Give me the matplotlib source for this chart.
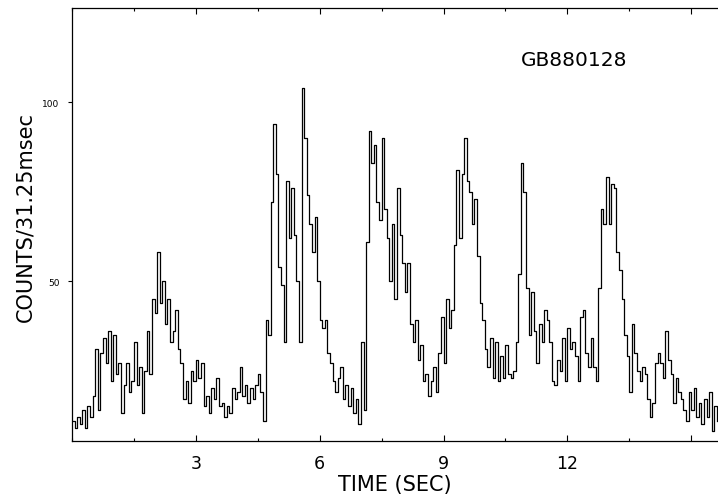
import numpy as np
import matplotlib
matplotlib.use("Agg")
import matplotlib.pyplot as plt
from matplotlib.ticker import MultipleLocator, FixedLocator

# counts per 31.25 ms bin, every 2 bins (0.0625 s)
bin_width = 0.0625
counts_0_2 = [11, 9, 12, 10, 14, 9, 15, 12, 18, 31, 14, 30, 34, 27, 36, 22,
              35, 24, 27, 13, 21, 27, 19, 22, 33, 21, 26, 13, 25, 36, 24, 45]
counts_2_4 = [41, 58, 44, 50, 38, 45, 33, 36, 42, 31, 27, 17, 22, 16, 25, 22,
              28, 23, 27, 15, 18, 13, 20, 17, 23, 15, 16, 12, 15, 13, 20, 17]
counts_4_6 = [19, 26, 18, 21, 16, 20, 17, 21, 24, 19, 11, 39, 35, 72, 94, 80,
              54, 49, 33, 78, 62, 76, 63, 50, 33, 104, 90, 74, 66, 58, 68, 50]
counts_6_8 = [39, 37, 39, 30, 27, 22, 19, 23, 26, 17, 21, 15, 20, 13, 17, 10,
              33, 14, 61, 92, 83, 88, 72, 67, 90, 70, 62, 50, 66, 45, 76, 63]
counts_8_10 = [55, 47, 55, 38, 33, 39, 28, 32, 22, 24, 18, 22, 26, 19, 30, 40,
               27, 45, 37, 42, 60, 81, 62, 80, 90, 78, 75, 66, 73, 57, 44, 39]
counts_10_12 = [31, 26, 34, 23, 33, 22, 29, 23, 32, 24, 23, 25, 33, 52, 83, 75,
                48, 35, 47, 36, 27, 38, 33, 42, 39, 33, 22, 21, 28, 25, 34, 22]
counts_12_14 = [37, 31, 33, 29, 22, 40, 42, 30, 26, 34, 26, 22, 48, 70, 66, 79,
                66, 77, 76, 58, 53, 45, 35, 29, 19, 38, 30, 25, 22, 26, 24, 17]
counts_14_end = [12, 16, 27, 30, 27, 23, 36, 28, 24, 16, 23, 19, 17, 14, 11, 19,
                 14, 20, 12, 16, 10, 17, 12, 19, 8, 15, 11]

counts = np.array(counts_0_2 + counts_2_4 + counts_4_6 + counts_6_8 +
                  counts_8_10 + counts_10_12 + counts_12_14 + counts_14_end)
time = np.arange(len(counts)) * bin_width

x_major = [3, 6, 9, 12, 15]
x_labels = ["3", "6", "9", "12", ""]
y_major = [50, 100]

plt.rcParams['font.family'] = ['DejaVu Sans']

fig = plt.figure(figsize=(7.18, 5.02), dpi=100)
ax = fig.add_axes([0.1003, 0.1195, 0.8997, 0.8625])

ax.step(time, counts, where='post', color='black', lw=0.9)

ax.set_xlim(0, 15.65)
ax.set_ylim(5.3, 126.3)

ax.xaxis.set_major_locator(FixedLocator(x_major))
ax.set_xticklabels(x_labels, fontsize=12.5)
ax.xaxis.set_minor_locator(MultipleLocator(1.5))
ax.tick_params(axis='x', which='both', direction='in', top=True, bottom=True,
               length=4, width=0.8, pad=9)
ax.tick_params(axis='x', which='minor', length=2.5)

ax.yaxis.set_major_locator(FixedLocator(y_major))
ax.tick_params(axis='y', which='major', direction='out', length=3, width=0.8,
               labelsize=6.5, pad=6)

ax.spines['right'].set_visible(False)
for s in ['left', 'bottom', 'top']:
    ax.spines[s].set_linewidth(0.9)

ax.set_xlabel("TIME (SEC)", fontsize=15, labelpad=2)
ax.set_ylabel("COUNTS/31.25msec", fontsize=15)
ax.yaxis.set_label_coords(-0.057, 0.52)
ax.text(0.777, 0.88, "GB880128", transform=ax.transAxes, fontsize=14.5,
        ha='center', va='center')

fig.savefig("out.png", dpi=100)
